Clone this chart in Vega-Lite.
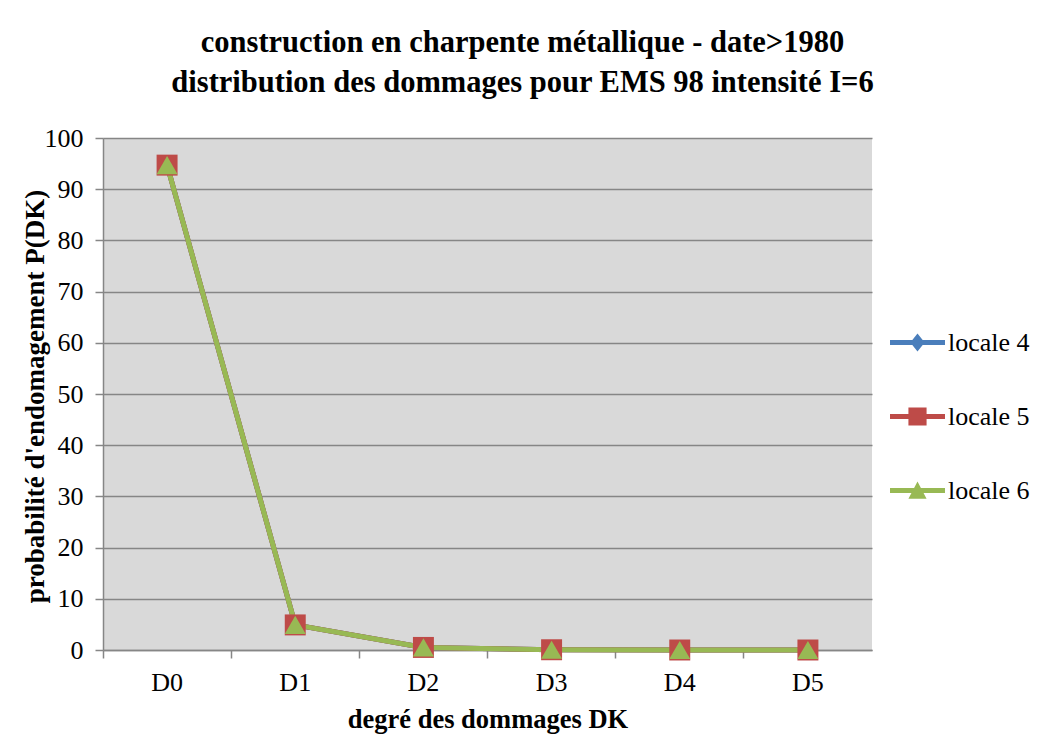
{
  "$schema": "https://vega.github.io/schema/vega-lite/v6.json",
  "autosize": "none",
  "width": 769,
  "height": 512,
  "padding": {"left": 103, "top": 138, "right": 167, "bottom": 86},
  "background": "white",
  "title": {
    "text": ["construction en charpente métallique - date>1980", "distribution des dommages pour EMS 98 intensité I=6"],
    "font": "Liberation Serif",
    "fontSize": 30.5,
    "fontWeight": "bold",
    "color": "black",
    "lineHeight": 40,
    "anchor": "middle",
    "dx": 35,
    "offset": 27
  },
  "config": {
    "view": {"stroke": null, "fill": "#d9d9d9"},
    "font": "Liberation Serif"
  },
  "data": {
    "values": [
      {"degre": "D0", "serie": "locale 4", "p": 94.7},
      {"degre": "D1", "serie": "locale 4", "p": 4.9},
      {"degre": "D2", "serie": "locale 4", "p": 0.5},
      {"degre": "D3", "serie": "locale 4", "p": 0.05},
      {"degre": "D4", "serie": "locale 4", "p": 0},
      {"degre": "D5", "serie": "locale 4", "p": 0},
      {"degre": "D0", "serie": "locale 5", "p": 94.7},
      {"degre": "D1", "serie": "locale 5", "p": 4.9},
      {"degre": "D2", "serie": "locale 5", "p": 0.5},
      {"degre": "D3", "serie": "locale 5", "p": 0.05},
      {"degre": "D4", "serie": "locale 5", "p": 0},
      {"degre": "D5", "serie": "locale 5", "p": 0},
      {"degre": "D0", "serie": "locale 6", "p": 94.7},
      {"degre": "D1", "serie": "locale 6", "p": 4.9},
      {"degre": "D2", "serie": "locale 6", "p": 0.5},
      {"degre": "D3", "serie": "locale 6", "p": 0.05},
      {"degre": "D4", "serie": "locale 6", "p": 0},
      {"degre": "D5", "serie": "locale 6", "p": 0}
    ]
  },
  "encoding": {
    "x": {
      "field": "degre",
      "type": "nominal",
      "scale": {"type": "band", "paddingInner": 0, "paddingOuter": 0},
      "axis": {
        "title": "degré des dommages DK",
        "titleFont": "Liberation Serif",
        "titleFontSize": 26.5,
        "titleFontWeight": "bold",
        "titleColor": "black",
        "titleX": 384.5,
        "titleY": 77,
        "titleAlign": "center",
        "titleBaseline": "alphabetic",
        "labelFont": "Liberation Serif",
        "labelFontSize": 26,
        "labelColor": "black",
        "labelAngle": 0,
        "labelBaseline": "alphabetic",
        "labelPadding": 32,
        "bandPosition": 0,
        "tickSize": 8,
        "tickColor": "#868686",
        "tickWidth": 1.5,
        "domainColor": "#868686",
        "domainWidth": 1.5,
        "grid": false
      }
    },
    "y": {
      "field": "p",
      "type": "quantitative",
      "scale": {"domain": [0, 100], "nice": false},
      "axis": {
        "title": "probabilité d'endomagement P(DK)",
        "titleFont": "Liberation Serif",
        "titleFontSize": 27,
        "titleFontWeight": "bold",
        "titleColor": "black",
        "titleX": -68,
        "titleY": 258,
        "titleAngle": 270,
        "titleAlign": "center",
        "titleBaseline": "middle",
        "labelFont": "Liberation Serif",
        "labelFontSize": 26,
        "labelColor": "black",
        "labelPadding": 12,
        "labelOverlap": false,
        "values": [0, 10, 20, 30, 40, 50, 60, 70, 80, 90, 100],
        "tickSize": 8,
        "tickColor": "#868686",
        "tickWidth": 1.5,
        "domainColor": "#868686",
        "domainWidth": 1.5,
        "grid": true,
        "gridColor": "#868686",
        "gridWidth": 1.5
      }
    },
    "color": {
      "field": "serie",
      "type": "nominal",
      "scale": {"domain": ["locale 4", "locale 5", "locale 6"], "range": ["#4a7ebb", "#be4b48", "#98b954"]},
      "legend": {
        "title": null,
        "orient": "none",
        "legendX": 787,
        "legendY": 177,
        "labelFont": "Liberation Serif",
        "labelFontSize": 26,
        "labelColor": "black",
        "labelOffset": 3,
        "symbolSize": 3025,
        "symbolStrokeWidth": 0,
        "symbolOpacity": 1,
        "rowPadding": 33
      }
    }
  },
  "layer": [
    {
      "mark": {"type": "point", "filled": true, "opacity": 1, "size": 1, "strokeWidth": 0},
      "encoding": {
        "shape": {
          "field": "serie",
          "type": "nominal",
          "scale": {
            "domain": ["locale 4", "locale 5", "locale 6"],
            "range": [
              "M-1,-0.09H1V0.09H-1Z M0,-0.33L0.26,0L0,0.33L-0.26,0Z",
              "M-1,-0.09H1V0.09H-1Z M-0.33,-0.33H0.33V0.33H-0.33Z",
              "M-1,-0.09H1V0.09H-1Z M0,-0.33L0.33,0.3H-0.33Z"
            ]
          }
        }
      }
    },
    {
      "mark": {"type": "line", "strokeWidth": 5},
      "encoding": {"order": {"field": "degre"}}
    },
    {
      "transform": [{"filter": "datum.serie === 'locale 4'"}],
      "mark": {"type": "point", "filled": true, "opacity": 1, "size": 380, "shape": "diamond"}
    },
    {
      "transform": [{"filter": "datum.serie === 'locale 5'"}],
      "mark": {"type": "point", "filled": true, "opacity": 1, "size": 440, "shape": "square"}
    },
    {
      "transform": [{"filter": "datum.serie === 'locale 6'"}],
      "mark": {"type": "point", "filled": true, "opacity": 1, "size": 440, "shape": "triangle-up"}
    }
  ]
}
